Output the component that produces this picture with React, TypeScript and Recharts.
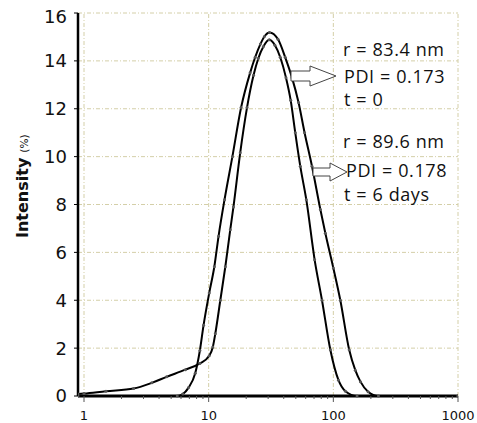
import { LineChart, Line, XAxis, YAxis, CartesianGrid, ReferenceLine } from "recharts";

// particle size (nm) vs intensity (%)
const sizeT0 = [0.895, 5.6, 6.2, 6.9, 7.8, 8.5, 9.1, 10.1, 11.1, 12.0, 13.4, 15.5, 18.2, 21.5, 23.6, 26.0, 28.0, 30.8, 36.0, 41.1, 46.6, 52.6, 58.8, 67.4, 78.7, 86.3, 100, 113.8, 134, 150, 165, 190, 230, 1000];
const intensityT0 = [0, 0, 0.08, 0.35, 0.95, 1.9, 2.96, 4.3, 5.4, 6.67, 8.2, 10.0, 12.05, 13.5, 14.15, 14.7, 15.02, 15.19, 14.9, 14.15, 13.3, 12.26, 11.0, 9.6, 7.79, 6.8, 5.35, 4.0, 1.93, 1.08, 0.6, 0.18, 0, 0];

const sizeT6 = [0.895, 1.0, 1.5, 2.5, 3.5, 4.6, 6.5, 8.5, 10.1, 10.8, 11.3, 12.4, 13.6, 14.9, 15.8, 17.9, 20.3, 22.9, 25.0, 27.5, 30.6, 34.0, 37.5, 41.7, 45.5, 49.5, 54.3, 60.7, 70.8, 81.1, 94.6, 110, 125, 155, 1000];
const intensityT6 = [0.08, 0.1, 0.2, 0.31, 0.55, 0.8, 1.1, 1.36, 1.68, 2.05, 2.6, 4.0, 5.4, 6.95, 7.9, 10.16, 12.05, 13.4, 14.1, 14.6, 14.88, 14.65, 14.15, 13.3, 12.35, 11.0, 9.6, 8.2, 5.69, 4.0, 1.93, 0.66, 0.2, 0, 0];

const xMajorTicks = [1, 10, 100, 1000];
const xMinorTicks = [2, 3, 4, 5, 6, 7, 8, 9, 20, 30, 40, 50, 60, 70, 80, 90, 200, 300, 400, 500, 600, 700, 800, 900];
const yTicks = [0, 2, 4, 6, 8, 10, 12, 14, 16];

const notesT0 = ["r = 83.4 nm", "PDI = 0.173", "t = 0"];
const notesT6 = ["r = 89.6 nm", "PDI = 0.178", "t = 6 days"];

const gridColor = "#d4cfa8";
const gridDash = "4 2 1 2";

const toPoints = (xs: number[], ys: number[]) => xs.map((x, i) => ({ size: x, intensity: ys[i] }));
const seriesT0 = toPoints(sizeT0, intensityT0);
const seriesT6 = toPoints(sizeT6, intensityT6);

const XTick = (props: any) => {
  const { x, y, payload } = props;
  const major = xMajorTicks.includes(payload.value);
  return (
    <g>
      <line x1={x} x2={x} y1={y} y2={y + (major ? 6 : 3)} stroke="#555" strokeWidth={1} />
      {major && (
        <text x={x} y={y + 24} textAnchor="middle" fontSize={13} fontFamily="DejaVu Sans" fill="#111">
          {payload.value}
        </text>
      )}
    </g>
  );
};

const YTick = (props: any) => {
  const { x, y, payload } = props;
  // the top label sits a little lower in the original
  const nudge = payload.value === 16 ? 4 : 0;
  return (
    <text x={x} y={y + nudge} dy="0.36em" textAnchor="end" fontSize={18} fontFamily="DejaVu Sans" fill="#111">
      {payload.value}
    </text>
  );
};

const YLabel = () => (
  <text transform="translate(28,238) rotate(-90)" fontFamily="DejaVu Sans" fill="#111">
    <tspan fontSize={16} fontWeight="bold">Intensity</tspan>
    <tspan fontSize={10.5} dx={5}>(%)</tspan>
  </text>
);

const noteStyle = { fontFamily: "Open Sans", fontSize: 18, letterSpacing: 0.6, fill: "#111" };

export default function App() {
  return (
    <div style={{ position: "absolute", left: 0, top: 0, width: 477, height: 423, background: "#fff" }}>
      <LineChart width={477} height={423} margin={{ top: 13, right: 19, bottom: 0, left: 0 }}>
        <CartesianGrid vertical={false} stroke={gridColor} strokeDasharray={gridDash} />
        {xMajorTicks.map((v) => (
          <ReferenceLine key={v} x={v} stroke={gridColor} strokeDasharray={gridDash} />
        ))}
        <XAxis
          type="number"
          dataKey="size"
          scale="log"
          domain={[0.895, 1000]}
          allowDataOverflow
          ticks={[...xMajorTicks, ...xMinorTicks].sort((a, b) => a - b)}
          interval={0}
          tick={<XTick />}
          tickLine={false}
          tickSize={0}
          tickMargin={0}
          height={27}
          axisLine={{ stroke: "#000", strokeWidth: 3 }}
        />
        <YAxis
          type="number"
          domain={[0, 16]}
          ticks={yTicks}
          interval={0}
          width={78}
          tickSize={4}
          tickMargin={7}
          tick={<YTick />}
          tickLine={{ stroke: "#000" }}
          axisLine={{ stroke: "#000", strokeWidth: 2.5 }}
          label={{ content: YLabel }}
        />
        <Line
          data={seriesT6}
          dataKey="intensity"
          name="t = 6 days"
          type="monotone"
          stroke="#000"
          strokeWidth={2}
          dot={{ r: 1.5, fill: "#555", stroke: "none" }}
          isAnimationActive={false}
        />
        <Line
          data={seriesT0}
          dataKey="intensity"
          name="t = 0"
          type="monotone"
          stroke="#000"
          strokeWidth={2}
          dot={{ r: 1.5, fill: "#555", stroke: "none" }}
          isAnimationActive={false}
        />
      </LineChart>
      <svg width={477} height={423} style={{ position: "absolute", left: 0, top: 0, pointerEvents: "none" }}>
        <polygon points="291,71 310,71 310,66 336,76 310,86 310,81 291,81" fill="#fff" stroke="#444" strokeWidth={1} />
        <polygon points="313,168 330,168 330,163 347,172 330,181 330,176 313,176" fill="#fff" stroke="#444" strokeWidth={1} />
        <text x={343} y={56} {...noteStyle}>{notesT0[0]}</text>
        <text x={344} y={83} {...noteStyle}>{notesT0[1]}</text>
        <text x={344} y={105.5} {...noteStyle}>{notesT0[2]}</text>
        <text x={343} y={148} {...noteStyle}>{notesT6[0]}</text>
        <text x={346} y={176.5} {...noteStyle}>{notesT6[1]}</text>
        <text x={344} y={201} {...noteStyle}>{notesT6[2]}</text>
      </svg>
    </div>
  );
}
